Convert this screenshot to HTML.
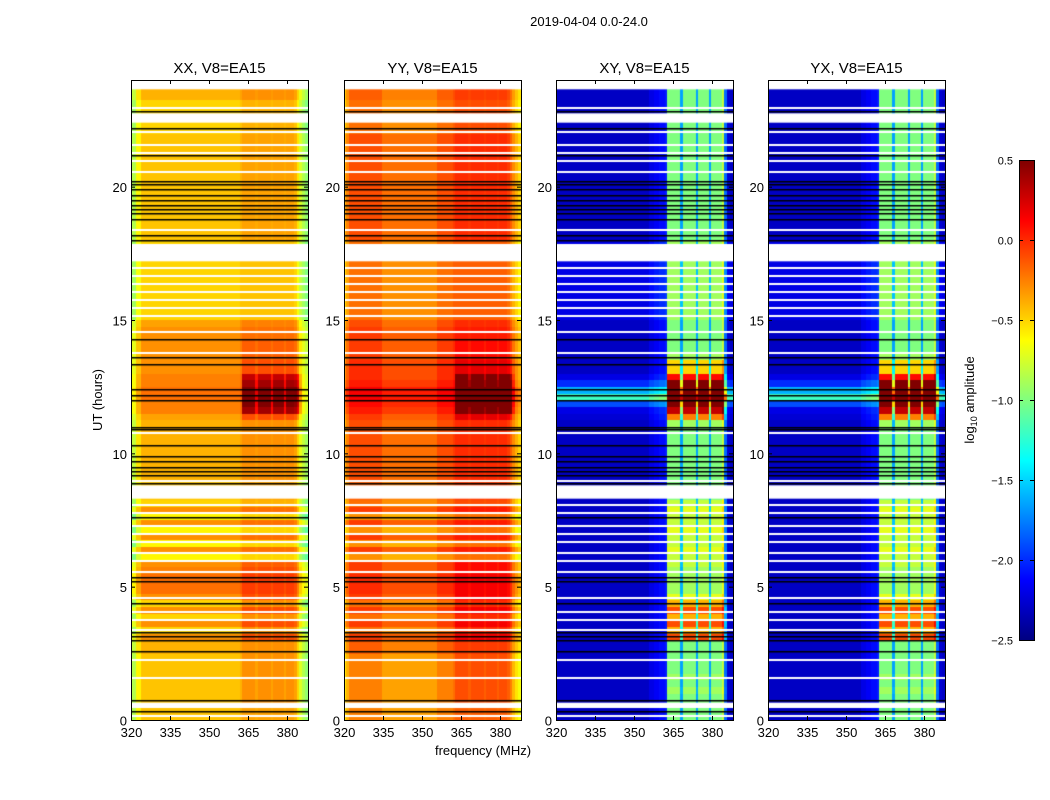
<!DOCTYPE html>
<html><head><meta charset="utf-8">
<style>
body{margin:0;background:#fff;font-family:"Liberation Sans",sans-serif;}
#root{position:relative;width:1050px;height:800px;overflow:hidden;background:#fff;}
canvas{position:absolute;z-index:1;}
#axes{position:absolute;left:0;top:0;z-index:2;}
</style></head><body>
<div id="root">
<svg id="axes" width="1050" height="800"></svg>
</div>
<script>
// ---- data ----
const panelTitles=["XX, V8=EA15","YY, V8=EA15","XY, V8=EA15","YX, V8=EA15"];
const xTicks=[320,335,350,365,380];
const yTicks=[0,5,10,15,20];
const cbTicks=[0.5,0.0,-0.5,-1.0,-1.5,-2.0,-2.5];
// rows: 96 bins of 0.25 h
const rowXX=[-0.45,-0.45,-0.45,-0.45,-0.45,-0.45,-0.45,-0.45,-0.45,-0.45,-0.4,-0.4,
 -0.3,-0.5,-0.3,-0.5,-0.3,-0.5,-0.3,-0.2,-0.2,-0.2,-0.25,-0.3,-0.6,-0.3,-0.6,-0.3,-0.6,-0.3,-0.6,-0.3,-0.5,
 -0.45,-0.45,-0.45,-0.4,-0.4,-0.4,-0.4,-0.4,-0.4,-0.4,-0.4,-0.4,-0.35,-0.25,-0.25,-0.2,-0.2,-0.25,-0.25,
 -0.3,-0.3,-0.3,-0.3,-0.3,-0.3,-0.3,-0.35,-0.5,-0.5,-0.5,-0.5,-0.5,-0.5,-0.5,-0.5,-0.5,-0.5,-0.5,-0.5,
 -0.45,-0.45,-0.45,-0.45,-0.45,-0.45,-0.45,-0.45,-0.45,-0.45,-0.45,-0.45,-0.45,-0.45,-0.45,-0.45,
 -0.5,-0.5,-0.5,-0.5,-0.5,-0.4,-0.4,-0.4];
const rowYY=[-0.25,-0.25,-0.25,-0.25,-0.25,-0.25,-0.25,-0.25,-0.25,-0.25,-0.15,-0.15,
 -0.05,-0.2,-0.05,-0.2,-0.05,-0.2,-0.05,0.0,0.0,0.0,-0.05,-0.05,-0.3,-0.05,-0.3,-0.05,-0.3,-0.05,-0.3,-0.05,-0.2,
 -0.15,-0.15,-0.15,-0.1,-0.1,-0.1,-0.1,-0.1,-0.1,-0.1,-0.1,-0.1,-0.05,0.05,0.1,0.15,0.15,0.05,0.0,
 0.0,0.0,-0.05,-0.05,-0.05,-0.05,-0.05,-0.1,-0.2,-0.2,-0.2,-0.2,-0.2,-0.2,-0.2,-0.2,-0.2,-0.2,-0.2,-0.2,
 -0.1,-0.1,-0.1,-0.1,-0.1,-0.1,-0.1,-0.1,-0.1,-0.1,-0.1,-0.1,-0.1,-0.1,-0.1,-0.1,
 -0.2,-0.2,-0.2,-0.2,-0.2,-0.15,-0.15,-0.15];
const boostPar=[0.05,0.05,0.1,0.1,0.1,0.1,0.1,0.1,0.1,0.1,0.05,0.05,
 0.15,0.15,0.15,0.15,0.15,0.15,0.15,0.1,0.1,0.1,0.1,0.1,0.05,0.05,0.05,0.05,0.05,0.05,0.05,0.05,0.05,
 0.05,0.05,0.05,0.05,0.05,0.05,0.05,0.05,0.05,0.05,0.05,0.05,0.2,0.6,0.7,0.7,0.7,0.6,0.5,
 0.15,0.15,0.1,0.1,0.1,0.05,0.05,0.05,0.0,0.0,0.0,0.0,0.0,0.0,0.0,0.0,0.0,0.0,0.0,0.0,
 0.05,0.05,0.05,0.05,0.05,0.05,0.05,0.05,0.05,0.05,0.05,0.05,0.05,0.05,0.05,0.05,
 0.05,0.05,0.05,0.05,0.05,0.05,0.05,0.05];
const rowCross=[-2.3,-2.3,-2.3,-2.3,-2.3,-2.3,-2.3,-2.3,-2.3,-2.3,-2.3,-2.3,
 -2.3,-2.3,-2.3,-2.3,-2.3,-2.3,-2.3,-2.3,-2.3,-2.3,-2.3,-2.3,-2.3,-2.3,-2.3,-2.3,-2.3,-2.3,-2.3,-2.3,-2.3,
 -2.3,-2.3,-2.3,-2.3,-2.3,-2.3,-2.3,-2.3,-2.3,-2.3,-2.3,-2.3,-2.25,-2.2,-1.9,-1.2,-1.6,-2.0,-2.2,
 -2.3,-2.3,-2.3,-2.3,-2.3,-2.3,-2.3,-2.3,-2.2,-2.2,-2.2,-2.2,-2.2,-2.2,-2.2,-2.2,-2.2,-2.2,-2.2,-2.2,
 -2.3,-2.3,-2.3,-2.3,-2.3,-2.3,-2.3,-2.3,-2.3,-2.3,-2.3,-2.3,-2.3,-2.3,-2.3,-2.3,
 -2.3,-2.3,-2.3,-2.3,-2.3,-2.3,-2.3,-2.3];
const boostCross=[1.3,1.3,1.3,1.3,1.4,1.3,1.4,1.3,1.3,1.3,1.3,1.3,
 2.2,1.9,2.2,1.9,2.2,1.9,1.6,1.4,1.4,1.4,1.4,1.5,1.5,1.6,1.5,1.5,1.6,1.5,1.5,1.6,1.5,
 1.3,1.3,1.3,1.3,1.3,1.3,1.3,1.3,1.3,1.3,1.3,1.4,2.0,2.5,2.8,3.0,2.8,2.6,2.3,
 1.8,1.8,1.4,1.3,1.3,1.3,1.3,1.3,1.3,1.3,1.3,1.3,1.3,1.3,1.3,1.3,1.3,1.3,1.3,1.3,
 1.3,1.3,1.3,1.3,1.3,1.3,1.3,1.3,1.3,1.3,1.3,1.3,1.3,1.3,1.3,1.3,
 1.3,1.3,1.3,1.3,1.3,1.3,1.3,1.3];
// columns: 68 bins of 1 MHz from 320
const colXX=[-0.4,-0.4,-0.15,-0.15,0,0,0,0,0,0,0,0,0,0,0,0,0,0,0,0,0,0,0,0,0,0,0,0,0,0,0,0,0,0,0,0,0,0,0,0,0,0,
 0.05,0.05,0.05,0.05,0.05,0.05,0.05,0.05,0.05,0.05,0.05,0.05,0.05,0.05,0.05,0.05,0.05,0.05,0.05,0.05,0.05,0,-0.15,-0.3,-0.4,-0.5];
const colYY=[-0.3,-0.15,0,0,0,0,0,0,0,0,0,0,0,0,0,-0.1,-0.1,-0.1,-0.1,-0.1,-0.1,-0.1,-0.1,-0.1,-0.1,-0.1,-0.1,-0.1,-0.1,-0.1,-0.1,-0.1,-0.1,-0.1,-0.1,-0.1,0,0,0,0,0,0,
 0.05,0.05,0.05,0.05,0.05,0.05,0.05,0.05,0.05,0.05,0.05,0.05,0.05,0.05,0.05,0.05,0.05,0.05,0.05,0.05,0.05,0,-0.1,-0.2,-0.3,-0.4];
const colCross=[0,0,0,0,0,0,0,0,0,0,0,0,0,0,0,0,0,0,0,0,0,0,0,0,0,0,0,0,0,0,0,0,0,0,0,0,0.1,0.1,0.15,0.15,0.2,0.2,
 0.25,0,0,0,0,0,0,0,0,0,0,0,0,0,0,0,0,0,0,0,0,0,0.2,0.1,0.05,0];
const bandMask=[0,0,0,0,0,0,0,0,0,0,0,0,0,0,0,0,0,0,0,0,0,0,0,0,0,0,0,0,0,0,0,0,0,0,0,0,0,0,0,0,0,0,0,
 1,1,1,1,1,0.5,1,1,1,1,1,0.5,1,1,1,1,0.5,1,1,1,1,1,0.3,0,0];
const flagged=[[0.45,0.65],[8.3,8.8],[17.2,17.85],[22.4,22.75],[23.65,24]];
const whiteLines=[0.2,1.6,2.3,3.4,3.8,4.1,4.6,5.6,6.0,6.3,6.7,7.0,7.3,7.8,8.1,9.0,10.8,13.8,14.6,15.2,15.5,15.8,16.1,16.4,16.7,17.0,18.4,20.6,21.0,21.3,21.6,22.1,23.0];
const blackLines=[0.35,0.75,2.6,3.0,3.15,3.3,4.4,5.2,5.35,7.6,8.9,9.2,9.35,9.5,9.7,9.9,10.3,10.9,11.0,12.0,12.2,12.4,13.35,13.6,14.3,18.0,18.2,18.8,19.0,19.15,19.3,19.5,19.7,19.9,20.1,20.2,21.2,22.2,22.85];
// ---- rendering ----
const PL=[131,344,556,768], PT=80, PW=177, PH=640, FMIN=320, FMAX=388.08, HMAX=24;
const xs=(f)=>(f-FMIN)/(FMAX-FMIN)*PW;
const ys=(h)=>PH-h/HMAX*PH;
function jet(v){let t=(v+2.5)/3;t=Math.max(0,Math.min(1,t));
 const c=x=>Math.round(255*Math.max(0,Math.min(1,x)));
 return `rgb(${c(1.5-Math.abs(4*t-3))},${c(1.5-Math.abs(4*t-2))},${c(1.5-Math.abs(4*t-1))})`;}
const root=document.getElementById('root');
const svg=document.getElementById('axes');
const NS="http://www.w3.org/2000/svg";
const FF='Liberation Sans, sans-serif';
function sv(tag,a){const e=document.createElementNS(NS,tag);for(const k in a)e.setAttribute(k,a[k]);svg.appendChild(e);return e;}
const st=sv('text',{x:589,y:26,'text-anchor':'middle','font-size':13,'font-family':FF});
st.textContent='2019-04-04 0.0-24.0';


const rowsP=[rowXX,rowYY,rowCross,rowCross], colsP=[colXX,colYY,colCross,colCross], boostP=[boostPar,boostPar,boostCross,boostCross];
const names=["xx","yy","xy","yx"];
for(let p=0;p<4;p++){
 const cv=document.createElement('canvas');cv.width=PW;cv.height=PH;
 cv.style.left=PL[p]+'px';cv.style.top=PT+'px';
 
 
 root.appendChild(cv);
 const g=cv.getContext('2d');
 const R=rowsP[p],C=colsP[p],B=boostP[p];
 for(let r=0;r<R.length;r++){
  const y0=ys((r+1)*HMAX/R.length), y1=ys(r*HMAX/R.length);
  for(let c=0;c<C.length;c++){
   const x0=xs(FMIN+c), x1=xs(FMIN+c+1);
   g.fillStyle=jet(R[r]+C[c]+bandMask[c]*B[r]);
   g.fillRect(Math.floor(x0),Math.floor(y0),Math.ceil(x1)-Math.floor(x0),Math.ceil(y1)-Math.floor(y0));
  }
 }
 g.fillStyle='#fff';
 flagged.forEach(f=>{g.fillRect(0,ys(f[1]),PW,ys(f[0])-ys(f[1]));});
 whiteLines.forEach(h=>{g.fillRect(0,Math.round(ys(h)),PW,2);});
 g.fillStyle='#000';
 blackLines.forEach(h=>{g.fillRect(0,Math.round(ys(h)),PW,1.5);});
 const fr=sv('rect',{x:PL[p]+0.5,y:PT+0.5,width:PW,height:PH,fill:'none',stroke:'#000','stroke-width':1});
 
 
 const tt=sv('text',{x:PL[p]+PW/2,y:73,'text-anchor':'middle','font-size':15,'font-family':FF});
 tt.textContent=panelTitles[p];
 
 
 xTicks.forEach(f=>{const x=PL[p]+xs(f)+0.5;
  sv('line',{x1:x,x2:x,y1:PT+PH,y2:PT+PH-4,stroke:'#000'});
  sv('line',{x1:x,x2:x,y1:PT,y2:PT+4,stroke:'#000'});
  const l=sv('text',{x:x,y:PT+PH+17,'text-anchor':'middle','font-size':13,'font-family':FF});
  l.textContent=f;
  
  });
 yTicks.forEach(h=>{const y=PT+ys(h)+0.5;
  sv('line',{x1:PL[p],x2:PL[p]+4,y1:y,y2:y,stroke:'#000'});
  sv('line',{x1:PL[p]+PW,x2:PL[p]+PW-4,y1:y,y2:y,stroke:'#000'});
  const l=sv('text',{x:PL[p]-4,y:y+5,'text-anchor':'end','font-size':13,'font-family':FF});
  l.textContent=h;
  
  });
}
const xl=sv('text',{x:483,y:755,'text-anchor':'middle','font-size':13,'font-family':FF});
xl.textContent='frequency (MHz)';


const yl=sv('text',{x:0,y:0,'text-anchor':'middle','font-size':13,'font-family':FF,transform:'translate(102,400) rotate(-90)'});
yl.textContent='UT (hours)';


// colorbar
const CBX=1019,CBY=160,CBW=15,CBH=480;
const defs=sv('defs',{});
const lg=document.createElementNS(NS,'linearGradient');lg.setAttribute('id','jetg');lg.setAttribute('x1','0');lg.setAttribute('y1','1');lg.setAttribute('x2','0');lg.setAttribute('y2','0');
for(let i=0;i<=24;i++){const s=document.createElementNS(NS,'stop');s.setAttribute('offset',i/24);s.setAttribute('stop-color',jet(-2.5+3*i/24));lg.appendChild(s);}
defs.appendChild(lg);
const cb=sv('rect',{x:CBX+0.5,y:CBY+0.5,width:CBW,height:CBH,fill:'url(#jetg)',stroke:'#000'});


cbTicks.forEach(v=>{const y=CBY+(0.5-v)/3*CBH+0.5;
 sv('line',{x1:CBX,x2:CBX+4,y1:y,y2:y,stroke:'#000'});
 sv('line',{x1:CBX+CBW-4,x2:CBX+CBW,y1:y,y2:y,stroke:'#000'});
 const l=sv('text',{x:CBX-6,y:y+4,'text-anchor':'end','font-size':11,'font-family':FF});
 l.textContent=(v<0?'\u2212'+Math.abs(v).toFixed(1):v.toFixed(1));
 
 });
const cl=sv('text',{x:0,y:0,'text-anchor':'middle','font-size':13,'font-family':FF,transform:'translate(974,400) rotate(-90)'});
cl.innerHTML='log<tspan font-size="9" dy="3">10</tspan><tspan dy="-3"> amplitude</tspan>';


</script>
</body></html>
